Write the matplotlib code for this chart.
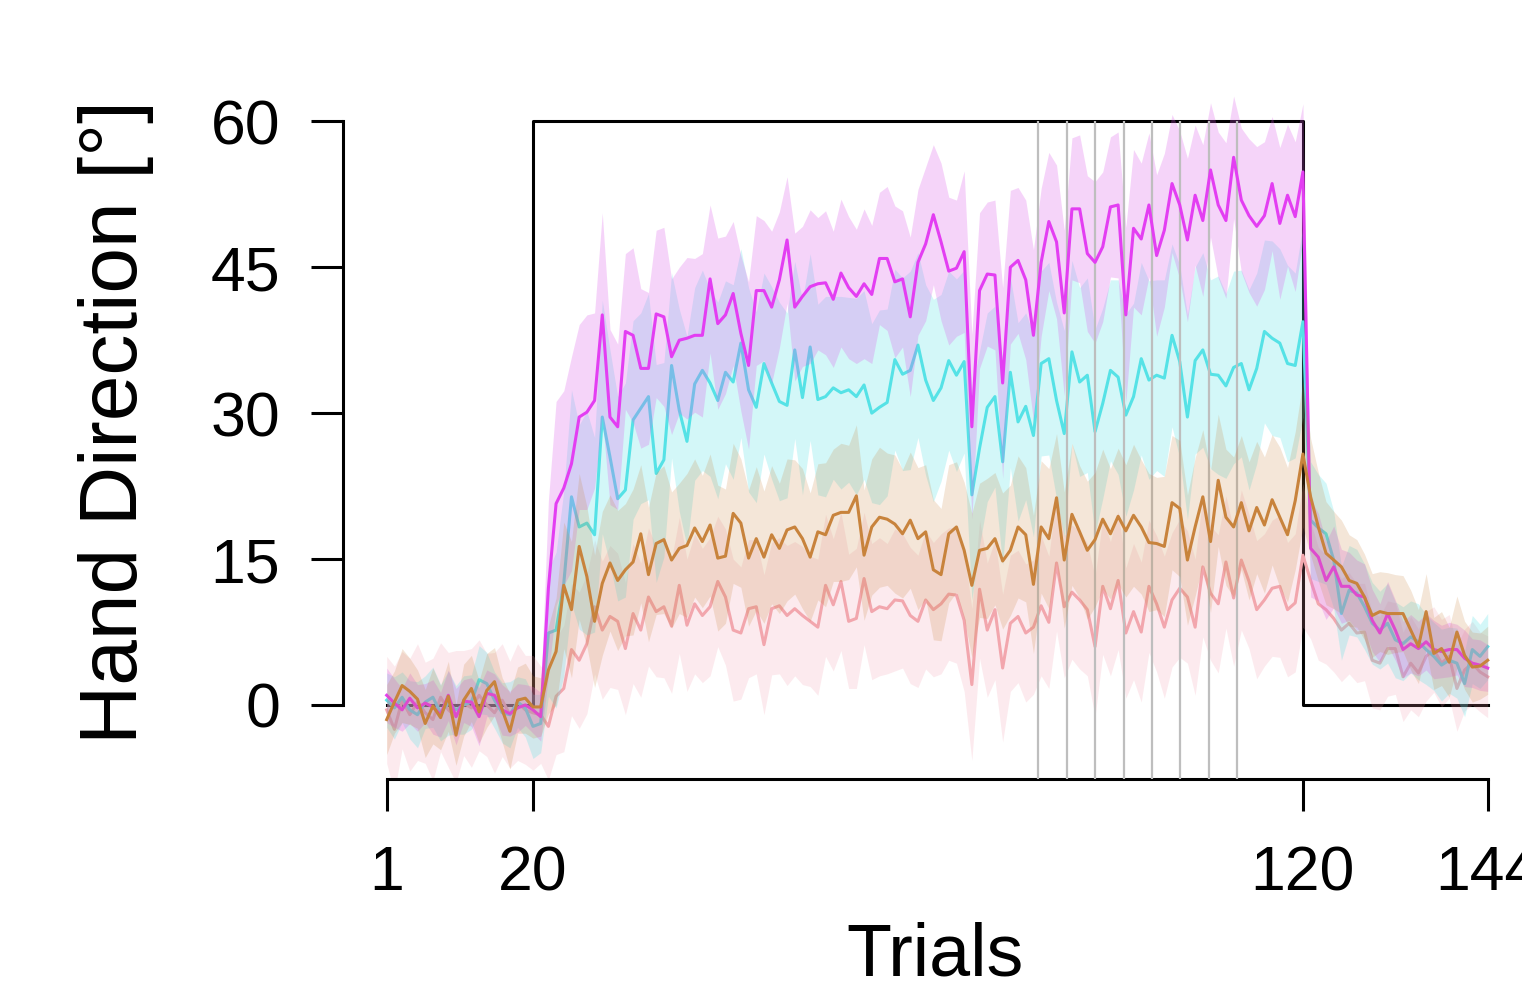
import numpy as np
import matplotlib
matplotlib.use("Agg")
import matplotlib.pyplot as plt

plt.rcParams['font.family'] = ['Liberation Sans', 'DejaVu Sans']

trials = np.arange(1, 145)

# perturbation schedule (rotation in degrees)
schedule_x = [1, 20, 20, 120, 120, 144]
schedule_y = [0, 0, 60, 60, 0, 0]

# trials marked with grey lines
marked_trials = [85.6, 89.3, 93.0, 96.7, 100.4, 104.1, 107.8, 111.5]

# group means (deg) per trial
magenta_mean = [
    1.0, 0.2, -0.5, 0.7, -0.3, 0.2, -0.2, -1.0, 1.0, -1.2, 0.4, 0.3, -1.2, 1.2, 1.0, -0.5, -0.9, -0.3, 0.0, -0.5,
    -1.2, 12.0, 20.7, 22.3, 24.8, 29.6, 30.1, 31.3, 40.1, 29.6,
    28.6, 38.4, 38.0, 34.6, 34.6, 40.2, 39.9, 35.8, 37.5, 37.7,
    38.0, 38.0, 43.8, 39.2, 40.1, 42.3, 38.2, 34.9, 42.6, 42.6,
    40.9, 43.7, 47.8, 40.9, 42.0, 43.0, 43.3, 43.4, 41.7, 44.4,
    42.9, 42.0, 43.3, 42.2, 45.9, 45.9, 43.5, 43.8, 39.9, 45.5,
    47.4, 50.4, 47.6, 44.6, 44.9, 46.6, 28.6, 42.6, 44.3, 44.2,
    33.1, 45.0, 45.7, 43.7, 38.0, 45.5, 49.7, 47.6, 40.3, 51.0,
    51.0, 46.4, 45.5, 47.1, 51.2, 51.4, 40.1, 49.0, 47.9, 51.4,
    46.2, 48.8, 53.6, 51.4, 47.8, 52.4, 49.8, 55.0, 51.4, 49.8,
    56.3, 51.9, 50.3, 49.2, 50.3, 53.6, 49.5, 52.4, 50.2, 54.8,
    16.1, 15.2, 12.8, 14.2, 12.2, 12.2, 11.3, 11.1, 8.7, 7.4, 9.4, 7.7,
    5.7, 6.3, 5.8, 6.5, 5.7, 5.5, 5.7, 5.7, 4.8, 4.3, 4.1, 3.8,
]
cyan_mean = [
    0.5, -0.3, 0.8, -0.5, -1.0, 0.3, 0.8, -0.8, 0.2, -0.5, 0.0, 0.3, 2.6, 2.2, 0.5, -0.8, -1.0, 0.3, -0.3, -2.2,
    -1.9, 7.4, 7.7, 12.5, 21.4, 18.3, 18.7, 17.5, 29.6, 25.5,
    21.2, 22.1, 29.3, 30.5, 31.7, 23.8, 25.2, 34.9, 30.3, 27.1,
    33.0, 34.4, 33.1, 31.3, 34.2, 33.2, 37.2, 32.4, 30.6, 35.1,
    33.1, 31.2, 30.8, 36.5, 31.6, 36.8, 31.4, 31.7, 32.6, 32.1,
    32.4, 31.7, 32.9, 30.0, 30.6, 31.1, 35.5, 34.0, 34.4, 37.0,
    33.4, 31.3, 32.6, 35.4, 33.9, 35.3, 21.6, 26.4, 30.6, 31.7,
    25.0, 34.2, 29.1, 30.7, 27.7, 35.1, 35.6, 31.3, 27.9, 36.3,
    33.2, 33.9, 28.1, 31.0, 34.4, 33.7, 29.8, 31.7, 35.6, 33.4,
    33.9, 33.6, 38.0, 35.3, 29.6, 35.4, 36.5, 34.0, 33.9, 32.8,
    34.7, 35.1, 32.4, 34.6, 38.4, 37.7, 37.2, 35.1, 34.9, 39.4,
    19.0, 18.2, 17.6, 14.9, 9.4, 11.8, 11.5, 10.1, 8.4, 7.7, 8.4, 6.7,
    6.3, 7.0, 6.5, 5.7, 5.0, 4.1, 4.6, 4.3, 2.2, 5.7, 5.0, 6.0,
]
brown_mean = [
    -1.5, 0.3, 2.0, 1.4, 0.6, -1.9, -0.1, -1.3, 0.9, -3.1, 0.5, 1.7, -0.7, 1.5, 2.4, -0.5, -2.7, 0.5, 0.7, -0.2,
    -0.2, 3.6, 5.5, 12.3, 9.8, 16.3, 13.2, 8.6, 12.5, 14.6,
    12.8, 13.9, 14.7, 17.6, 13.4, 16.6, 17.0, 14.9, 16.1, 16.4,
    18.2, 16.8, 18.5, 15.1, 15.3, 19.7, 18.7, 15.1, 17.1, 15.2,
    17.5, 16.1, 18.0, 18.3, 17.1, 15.2, 17.8, 17.5, 19.5, 19.8,
    19.8, 21.5, 15.4, 18.3, 19.3, 19.1, 18.6, 17.6, 19.0, 17.1,
    17.8, 13.9, 13.4, 17.6, 18.3, 15.9, 12.3, 15.9, 16.1, 17.1,
    14.8, 15.9, 18.3, 17.5, 12.4, 18.3, 17.1, 21.3, 14.9, 19.6,
    17.8, 15.9, 17.0, 19.1, 17.6, 19.4, 17.9, 19.5, 18.3, 16.7,
    16.6, 16.3, 20.8, 20.2, 14.9, 18.3, 21.4, 16.8, 23.1, 19.3,
    18.3, 20.8, 17.9, 20.3, 18.5, 21.1, 19.3, 17.5, 21.0, 25.8,
    21.4, 18.3, 15.6, 14.9, 14.2, 12.8, 12.5, 11.1, 9.2, 9.6, 9.4, 9.4,
    9.4, 7.7, 6.0, 9.6, 5.3, 5.8, 4.4, 7.5, 5.1, 3.9, 4.0, 4.6,
]
pink_mean = [
    -0.5, -2.5, 0.5, -1.0, 0.3, -0.8, -1.5, 0.8, -0.5, -1.2, 0.2, -0.3, 1.0, 0.0, -0.8, 0.5, -1.0, 0.3, -0.5, -0.8,
    -1.0, -2.2, 0.9, 1.7, 5.7, 4.6, 6.3, 10.1, 7.7, 9.1,
    8.6, 5.8, 9.4, 7.7, 11.1, 9.6, 10.1, 8.1, 12.3, 8.2,
    10.4, 9.2, 10.1, 12.7, 11.1, 7.7, 7.4, 9.9, 10.1, 6.2,
    9.9, 10.2, 9.2, 9.9, 9.2, 8.6, 8.0, 12.3, 10.3, 12.7,
    8.6, 8.9, 13.0, 9.6, 10.1, 9.9, 10.8, 10.7, 9.2, 8.6,
    10.8, 9.8, 10.4, 11.4, 11.3, 8.7, 2.1, 11.9, 7.7, 9.8,
    3.8, 8.4, 9.1, 7.4, 8.0, 10.2, 8.5, 14.6, 10.1, 11.6,
    10.8, 9.8, 6.0, 12.2, 9.9, 12.8, 7.4, 9.6, 7.5, 12.2,
    10.4, 8.0, 10.8, 12.0, 11.1, 8.0, 14.2, 11.5, 10.4, 14.7,
    11.0, 14.9, 12.7, 9.8, 10.8, 12.0, 12.2, 9.8, 10.5, 15.4,
    12.8, 10.4, 9.8, 8.9, 7.7, 8.4, 7.4, 7.5, 4.6, 4.3, 5.8, 5.8,
    2.9, 4.3, 3.3, 5.0, 5.7, 4.3, 5.0, 1.7, 3.6, 4.3, 3.4, 2.9,
]

# 95% confidence interval half-widths (deg)
magenta_ci = [
    2.8, 2.5, 2.2, 2.6, 2.4, 2.0, 2.8, 2.3, 2.6, 2.9, 2.2, 2.5, 3.0, 2.4, 2.2, 2.6, 2.3, 2.5, 2.1, 2.4,
    2.5, 9.0, 10.5, 10.0, 11.0, 9.5, 10.0, 9.0, 10.5, 9.0,
    8.5, 8.0, 9.0, 8.2, 7.8, 8.6, 9.2, 8.0, 7.5, 8.3,
    7.9, 8.4, 7.6, 8.8, 8.1, 7.4, 8.0, 8.6, 7.7, 7.2,
    7.8, 7.0, 6.5, 7.6, 7.2, 7.9, 6.8, 7.4, 7.0, 7.6,
    7.3, 6.9, 7.7, 7.1, 6.8, 7.4, 7.8, 7.0, 8.2, 7.5,
    7.9, 7.2, 8.1, 7.6, 7.0, 8.3, 9.5, 8.0, 7.4, 7.7,
    9.8, 7.9, 7.5, 8.2, 8.8, 7.6, 7.1, 7.9, 8.5, 7.3,
    7.6, 8.0, 8.3, 7.7, 7.2, 7.5, 9.0, 8.1, 7.8, 7.4,
    8.3, 7.9, 7.1, 7.6, 8.4, 7.2, 7.8, 6.9, 7.5, 8.0,
    6.3, 7.4, 7.9, 8.2, 7.6, 6.9, 7.8, 7.3, 7.7, 7.0,
    5.0, 4.5, 4.0, 4.2, 3.8, 3.5, 3.6, 3.4, 3.2, 3.0, 3.3, 3.1,
    2.9, 3.0, 2.8, 2.9, 3.0, 2.7, 2.8, 2.6, 2.9, 2.5, 2.6, 2.4,
]
cyan_ci = [
    2.8, 3.2, 2.6, 3.0, 3.4, 2.7, 3.1, 2.9, 3.3, 2.5, 3.0, 2.8, 3.5, 3.2, 2.9, 3.1, 3.4, 2.6, 3.0, 3.3,
    3.0, 6.5, 8.0, 9.5, 11.0, 10.5, 11.5, 10.0, 12.0, 11.0,
    10.5, 11.0, 10.2, 9.8, 10.6, 11.2, 10.0, 9.5, 10.4, 10.8,
    9.9, 10.3, 9.6, 10.1, 9.4, 10.0, 9.7, 10.5, 9.8, 9.3,
    9.9, 10.2, 9.5, 9.1, 10.0, 9.6, 9.8, 10.3, 9.4, 9.9,
    9.5, 10.1, 9.7, 9.2, 10.0, 9.6, 9.3, 9.9, 10.2, 9.5,
    9.8, 10.4, 9.6, 9.2, 9.9, 9.4, 10.8, 10.0, 9.7, 9.3,
    10.6, 9.8, 10.2, 9.6, 10.4, 9.5, 9.9, 10.1, 10.6, 9.4,
    9.7, 10.0, 10.5, 9.8, 9.3, 10.0, 10.4, 9.6, 9.9, 10.2,
    9.8, 10.1, 9.4, 9.9, 10.5, 9.6, 10.0, 9.7, 10.2, 9.5,
    9.9, 9.6, 10.3, 9.8, 9.4, 10.0, 9.7, 10.1, 9.5, 9.8,
    6.0, 5.5, 5.2, 5.0, 4.8, 4.6, 4.5, 4.4, 4.2, 4.0, 4.1, 3.9,
    3.8, 3.7, 3.9, 3.6, 3.5, 3.7, 3.4, 3.6, 3.4, 3.5, 3.3, 3.4,
]
brown_ci = [
    3.6, 3.2, 3.8, 3.4, 3.0, 3.5, 3.9, 3.3, 3.6, 3.1, 3.7, 3.4, 3.2, 3.8, 3.5, 3.3, 3.9, 3.4, 3.6, 3.2,
    3.0, 4.5, 5.5, 6.5, 7.0, 7.5, 7.2, 6.8, 7.4, 7.0,
    7.2, 6.8, 7.5, 7.1, 6.9, 7.3, 7.6, 7.0, 6.7, 7.4,
    7.1, 6.8, 7.3, 7.5, 6.9, 7.2, 6.6, 7.0, 7.4, 6.8,
    7.1, 6.7, 7.3, 6.9, 7.2, 6.6, 7.0, 7.4, 6.8, 7.1,
    6.9, 7.3, 6.7, 7.0, 7.2, 6.8, 7.1, 6.6, 7.0, 7.3,
    6.9, 7.2, 6.8, 7.1, 6.7, 7.0, 7.4, 6.9, 7.2, 6.8,
    7.0, 6.7, 7.3, 6.9, 7.1, 6.8, 7.2, 6.6, 7.0, 7.3,
    6.8, 7.1, 6.9, 7.2, 6.7, 7.0, 6.8, 7.3, 6.9, 7.1,
    6.8, 7.2, 6.9, 7.0, 6.7, 7.1, 6.9, 7.3, 6.8, 7.0,
    7.2, 6.9, 7.1, 6.8, 7.0, 6.7, 7.2, 6.9, 7.1, 7.5,
    6.0, 5.6, 5.3, 5.0, 4.8, 4.7, 4.5, 4.4, 4.3, 4.1, 4.2, 4.0,
    3.9, 4.1, 3.8, 3.9, 3.7, 3.8, 3.6, 3.7, 3.5, 3.6, 3.4, 3.5,
]
pink_ci = [
    5.5, 6.5, 5.0, 5.8, 6.0, 5.2, 6.3, 5.6, 5.9, 6.8, 5.4, 6.1, 5.7, 5.3, 6.2, 5.8, 5.5, 6.0, 5.6, 5.9,
    5.0, 5.5, 6.0, 6.5, 6.8, 7.0, 7.2, 6.9, 7.1, 7.3,
    7.0, 6.8, 7.2, 6.9, 7.1, 6.7, 7.3, 6.9, 7.0, 6.8,
    7.2, 6.9, 7.1, 6.7, 7.0, 7.3, 6.8, 7.1, 6.9, 7.2,
    6.8, 7.0, 7.2, 6.9, 7.1, 6.7, 7.0, 7.3, 6.8, 7.1,
    6.9, 7.2, 6.8, 7.0, 7.1, 6.7, 7.3, 6.9, 7.0, 6.8,
    7.1, 6.9, 7.2, 6.8, 7.0, 7.3, 7.8, 7.1, 6.9, 7.2,
    7.6, 7.0, 6.8, 7.1, 6.9, 7.2, 6.8, 7.0, 7.3, 6.9,
    7.1, 6.8, 7.2, 7.0, 6.9, 7.1, 6.7, 7.0, 7.2, 6.8,
    7.0, 7.3, 6.9, 7.1, 6.8, 7.0, 7.2, 6.9, 7.1, 6.8,
    7.0, 7.2, 6.9, 7.1, 6.8, 7.0, 7.3, 6.9, 7.1, 7.4,
    6.0, 5.8, 5.6, 5.5, 5.3, 5.2, 5.1, 5.0, 4.9, 4.8, 4.9, 4.7,
    4.6, 4.8, 4.5, 4.6, 4.4, 4.5, 4.3, 4.4, 4.2, 4.3, 4.1, 4.2,
]

# (mean, ci, line colour, band colour, band alpha, zorder)
groups = [
    (pink_mean, pink_ci, '#f2a6ad', '#f39aaa', 0.2, 1),
    (cyan_mean, cyan_ci, '#55e2e6', '#55e2e6', 0.26, 2),
    (magenta_mean, magenta_ci, '#e33ef2', '#dc5aea', 0.26, 3),
    (brown_mean, brown_ci, '#c8833c', '#c8833c', 0.2, 5),
]

W, H = 1522, 988
fig = plt.figure(figsize=(W / 100, H / 100), dpi=100)

# axes box in pixels, x: 1 -> 386.7, 144 -> 1487.7 ; y: 0 -> 705, 60 -> 121.3
xs = (1487.7 - 386.7) / 143
ys = (705 - 121.3) / 60
left_px, right_px, bottom_px, top_px = 342.7, 1522, 779, 60
ax = fig.add_axes([left_px / W, 1 - bottom_px / H,
                   (right_px - left_px) / W, (bottom_px - top_px) / H])
ax.set_xlim(1 - (386.7 - left_px) / xs, 144 + (right_px - 1487.7) / xs)
ybot = -(bottom_px - 705) / ys
ax.set_ylim(ybot, (705 - top_px) / ys)

ax.plot(schedule_x, schedule_y, color='black', lw=2.2, zorder=0.5)

for mean, ci, lc, bc, a, z in groups:
    mean = np.array(mean)
    ci = np.array(ci)
    ax.fill_between(trials, mean - ci, mean + ci, color=bc, alpha=a, lw=0, zorder=z)
    ax.plot(trials, mean, color=lc, lw=2.2, zorder=z + 0.5)

ax.vlines(marked_trials, ybot, 60, color='#bebebe', lw=1.6, zorder=3.2)

for s in ['top', 'right']:
    ax.spines[s].set_visible(False)
ax.spines['left'].set_bounds(0, 60)
ax.spines['bottom'].set_bounds(1, 144)
for s in ['left', 'bottom']:
    ax.spines[s].set_linewidth(2.2)

ax.set_yticks([0, 15, 30, 45, 60])
ax.set_xticks([1, 20, 120, 144])
ax.tick_params(axis='both', length=23, width=2.2, labelsize=45)
ax.tick_params(axis='y', pad=22)
ax.tick_params(axis='x', pad=24)

fig.text(116 / W, 1 - 422 / H, 'Hand Direction [°]', rotation=90,
         ha='center', va='center', fontsize=59)
fig.text(935 / W, 1 - 975 / H, 'Trials', ha='center', va='baseline', fontsize=53)

fig.savefig('out.png', dpi=100)
